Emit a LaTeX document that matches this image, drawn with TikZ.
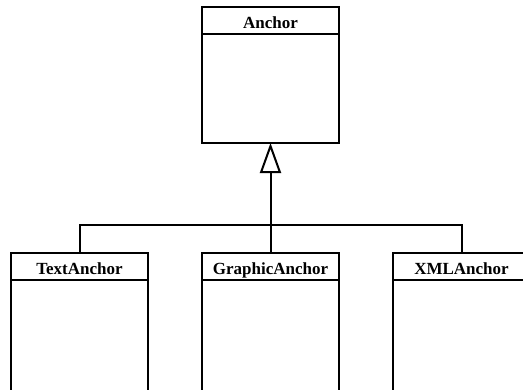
\documentclass[tikz,border=0pt]{standalone}
\usepackage{fontspec}
\setmainfont{Liberation Serif}
\usetikzlibrary{arrows.meta}
\begin{document}
\begin{tikzpicture}[x=1pt,y=-1pt,
  hdr/.style={draw,line width=2pt,outer sep=0pt,minimum width=137pt,minimum height=27pt,inner sep=0pt,text height=15pt,text depth=0pt,font=\fontsize{17}{19}\selectfont\bfseries,anchor=north},
  bodybox/.style={draw,line width=2pt,outer sep=0pt,minimum width=137pt,inner sep=0pt,anchor=north},
  conn/.style={line width=2pt}]
\useasboundingbox (0,0) rectangle (523,389);
\fill[white] (0,0) rectangle (523,389);
\clip (0,0) rectangle (523,389);
\node[hdr] (anchorH) at (270.5,7) {Anchor};
\node[bodybox,minimum height=109pt] (anchorB) at (anchorH.south) {};
\node[hdr] (textH) at (79.5,253) {TextAnchor};
\node[bodybox,minimum height=130pt] (textB) at (textH.south) {};
\node[hdr] (graphH) at (270.5,253) {GraphicAnchor};
\node[bodybox,minimum height=130pt] (graphB) at (graphH.south) {};
\node[hdr] (xmlH) at (461.5,253) {XMLAnchor};
\node[bodybox,minimum height=130pt] (xmlB) at (xmlH.south) {};
\coordinate (bar) at (270.5,225);
\draw[conn] (textH.north) |- (bar) -| (xmlH.north);
\draw[conn,-{Triangle[open,length=30pt,width=21pt,line width=2pt,fill=white]}] (graphH.north) -- (anchorB.south);
\end{tikzpicture}
\end{document}
